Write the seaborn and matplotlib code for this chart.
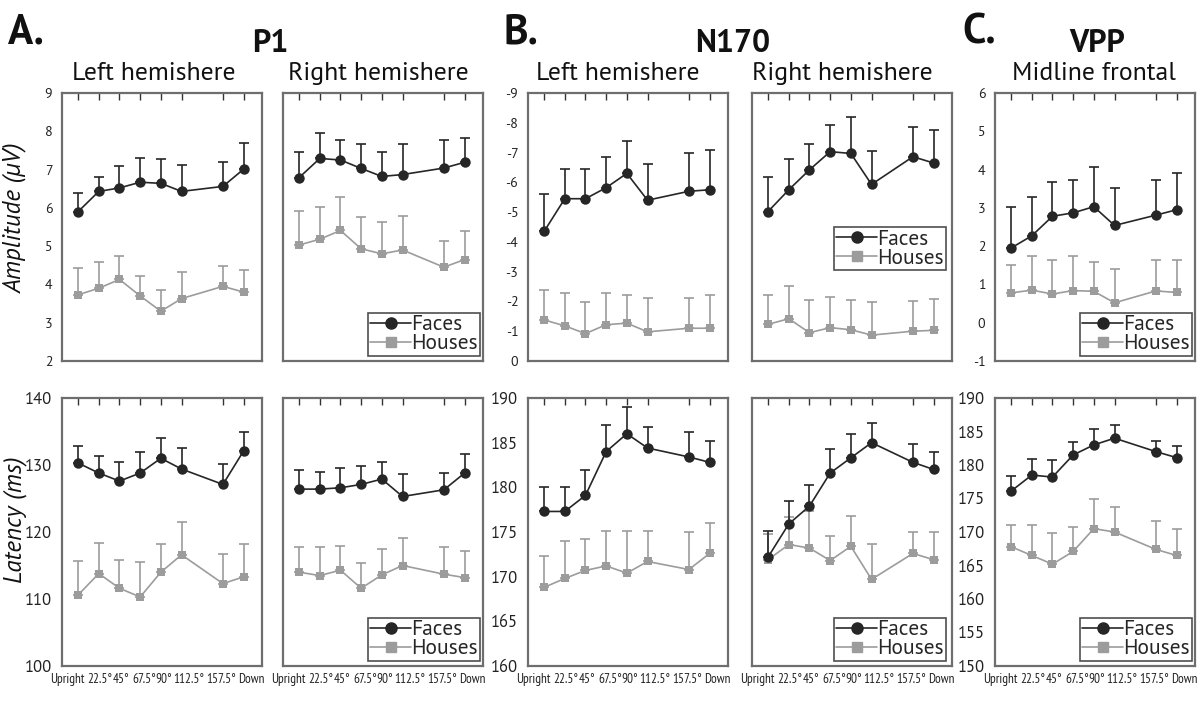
import numpy as np
import pandas as pd
import seaborn as sns
import matplotlib.pyplot as plt
import matplotlib.transforms as mtransforms
from matplotlib.lines import Line2D

sns.set_style("white")
MAIN = ['PT Sans', 'Lato', 'DejaVu Sans']
NARROW = ['PT Sans Narrow', 'Archivo Narrow', 'Barlow Semi Condensed', 'Lato', 'DejaVu Sans']
plt.rcParams['font.family'] = MAIN
plt.rcParams['axes.unicode_minus'] = False

# orientation angles (135 deg was not tested)
angles = [0, 22.5, 45, 67.5, 90, 112.5, 157.5, 180]
angle_labels = ['Upright', '22.5°', '45°', '67.5°', '90°', '112.5°', '157.5°', 'Down']

# ---- amplitude (uV): means and top of error bar ----
p1_left_amp_faces = [5.90, 6.43, 6.52, 6.67, 6.64, 6.43, 6.56, 7.01]
p1_left_amp_faces_err = [6.38, 6.80, 7.09, 7.29, 7.27, 7.12, 7.20, 7.70]
p1_left_amp_houses = [3.73, 3.90, 4.13, 3.70, 3.30, 3.63, 3.95, 3.80]
p1_left_amp_houses_err = [4.42, 4.58, 4.74, 4.22, 3.86, 4.32, 4.49, 4.37]

p1_right_amp_faces = [6.79, 7.29, 7.25, 7.03, 6.82, 6.87, 7.04, 7.19]
p1_right_amp_faces_err = [7.46, 7.95, 7.77, 7.68, 7.46, 7.68, 7.77, 7.82]
p1_right_amp_houses = [5.03, 5.18, 5.41, 4.93, 4.80, 4.90, 4.45, 4.65]
p1_right_amp_houses_err = [5.92, 6.01, 6.28, 5.77, 5.62, 5.80, 5.13, 5.40]

n170_left_amp_faces = [-4.35, -5.45, -5.45, -5.82, -6.30, -5.40, -5.70, -5.75]
n170_left_amp_faces_err = [-5.62, -6.45, -6.45, -6.85, -7.40, -6.62, -6.98, -7.07]
n170_left_amp_houses = [-1.38, -1.18, -0.92, -1.22, -1.27, -0.98, -1.10, -1.10]
n170_left_amp_houses_err = [-2.40, -2.28, -1.97, -2.28, -2.20, -2.10, -2.13, -2.23]

n170_right_amp_faces = [-5.02, -5.75, -6.42, -7.03, -6.97, -5.93, -6.86, -6.65]
n170_right_amp_faces_err = [-6.18, -6.78, -7.30, -7.93, -8.18, -7.05, -7.85, -7.75]
n170_right_amp_houses = [-1.23, -1.42, -0.95, -1.12, -1.05, -0.87, -1.00, -1.03]
n170_right_amp_houses_err = [-2.20, -2.52, -2.04, -2.15, -2.04, -1.97, -2.00, -2.08]

vpp_amp_faces = [1.95, 2.27, 2.78, 2.87, 3.03, 2.54, 2.81, 2.95]
vpp_amp_faces_err = [3.01, 3.29, 3.68, 3.73, 4.07, 3.51, 3.73, 3.91]
vpp_amp_houses = [0.78, 0.85, 0.75, 0.84, 0.82, 0.52, 0.83, 0.79]
vpp_amp_houses_err = [1.52, 1.73, 1.64, 1.73, 1.58, 1.41, 1.65, 1.65]

# ---- latency (ms) ----
p1_left_lat_faces = [130.3, 128.8, 127.6, 128.8, 131.0, 129.4, 127.1, 132.1]
p1_left_lat_faces_err = [132.9, 131.4, 130.5, 132.0, 134.0, 132.6, 130.1, 134.9]
p1_left_lat_houses = [110.6, 113.8, 111.6, 110.3, 114.0, 116.6, 112.3, 113.3]
p1_left_lat_houses_err = [115.6, 118.3, 115.8, 115.5, 118.2, 121.5, 116.7, 118.2]

p1_right_lat_faces = [126.4, 126.4, 126.6, 127.1, 127.9, 125.3, 126.3, 128.8]
p1_right_lat_faces_err = [129.3, 128.9, 129.5, 129.8, 130.5, 128.7, 128.8, 131.6]
p1_right_lat_houses = [114.0, 113.5, 114.3, 111.6, 113.6, 115.0, 113.7, 113.2]
p1_right_lat_houses_err = [117.8, 117.7, 117.9, 115.3, 117.5, 119.1, 117.7, 117.1]

n170_left_lat_faces = [177.3, 177.3, 179.1, 184.0, 186.0, 184.4, 183.4, 182.8]
n170_left_lat_faces_err = [180.0, 180.0, 181.9, 187.0, 189.0, 186.8, 186.2, 185.2]
n170_left_lat_houses = [168.8, 169.8, 170.7, 171.2, 170.4, 171.7, 170.8, 172.6]
n170_left_lat_houses_err = [172.3, 174.0, 174.2, 175.1, 175.1, 175.1, 175.0, 176.0]

n170_right_lat_faces = [172.2, 175.9, 177.9, 181.6, 183.3, 185.0, 182.8, 182.0]
n170_right_lat_faces_err = [175.1, 178.5, 180.3, 184.3, 186.0, 187.2, 184.9, 184.0]
n170_right_lat_houses = [171.9, 173.6, 173.2, 171.8, 173.4, 169.7, 172.6, 171.9]
n170_right_lat_houses_err = [174.8, 176.7, 177.4, 174.6, 176.8, 173.7, 175.0, 175.0]

vpp_lat_faces = [176.1, 178.5, 178.2, 181.5, 183.0, 184.0, 182.0, 181.1]
vpp_lat_faces_err = [178.3, 180.9, 180.7, 183.5, 185.4, 185.9, 183.6, 182.8]
vpp_lat_houses = [167.8, 166.5, 165.2, 167.1, 170.5, 170.0, 167.4, 166.5]
vpp_lat_houses_err = [171.0, 171.0, 169.8, 170.7, 175.0, 173.7, 171.6, 170.5]

FACE_C = '#262626'
HOUSE_C = '#9c9c9c'
SPINE_C = '#6e6e6e'

fig = plt.figure(figsize=(12, 7.15), dpi=100)
W, H = 1200, 715

col_x = [62, 283, 528, 752, 995]
col_w = 200
row_top = [93, 398]
row_h = 268

# small horizontal nudges (px) so the crowded angle labels sit as in the figure
label_nudge = [-11, 1, 2, 4, 3, 7, -2, 8]


def draw_panel(ax, faces, faces_err, houses, houses_err, ylim, yticks,
               show_labels, show_xlabels, legend_anchor, tick_fs):
    df = pd.DataFrame({
        'angle': angles * 2,
        'value': faces + houses,
        'cond': ['Faces'] * len(angles) + ['Houses'] * len(angles),
    })
    # error bars (one-sided, towards the top of the axis)
    for mean, top, c in [(houses, houses_err, HOUSE_C), (faces, faces_err, FACE_C)]:
        mean = np.array(mean)
        top = np.array(top)
        lo = np.clip(mean - top, 0, None)
        hi = np.clip(top - mean, 0, None)
        ax.errorbar(angles, mean, yerr=[lo, hi], fmt='none', ecolor=c,
                    elinewidth=1.2, capsize=3.5, capthick=1.2, zorder=1.5)
    sns.lineplot(data=df, x='angle', y='value', hue='cond', style='cond',
                 hue_order=['Houses', 'Faces'], style_order=['Houses', 'Faces'],
                 palette={'Faces': FACE_C, 'Houses': HOUSE_C},
                 markers={'Faces': 'o', 'Houses': 's'}, dashes=False,
                 linewidth=1.2, markeredgewidth=0, legend=False, ax=ax)
    for ln in ax.lines:
        if ln.get_marker() == 'o':
            ln.set_markersize(7.5)
        elif ln.get_marker() == 's':
            ln.set_markersize(6)

    ax.set_xlim(-17.5, 200)
    ax.set_ylim(*ylim)
    ax.set_xticks(angles)
    ax.set_yticks(yticks)
    ax.set_xlabel('')
    ax.set_ylabel('')
    ax.set_xticklabels([])
    if show_xlabels:
        base = mtransforms.blended_transform_factory(ax.transData, ax.transAxes)
        for a, lab, dx in zip(angles, angle_labels, label_nudge):
            off = mtransforms.ScaledTranslation(dx / 100, -7 / 100, fig.dpi_scale_trans)
            ax.text(a, 0, lab, transform=base + off, ha='center', va='top',
                    fontsize=9.5, family=NARROW, color='#222222')
    if show_labels:
        ax.set_yticklabels([str(t) for t in yticks], fontsize=tick_fs)
    else:
        ax.set_yticklabels([])
    ax.tick_params(axis='both', direction='out', length=5, width=1,
                   color='#333333', pad=2, labelcolor='#222222')
    top = ax.secondary_xaxis('top')
    top.set_xticks(angles)
    top.set_xticklabels([])
    top.tick_params(direction='in', length=5, width=1, color='#333333')
    top.spines['top'].set_visible(False)
    for s in ax.spines.values():
        s.set_color(SPINE_C)
        s.set_linewidth(1.6)

    if legend_anchor is not None:
        handles = [
            Line2D([], [], color=FACE_C, marker='o', markersize=8, lw=1.2),
            Line2D([], [], color=HOUSE_C, marker='s', markersize=6.5, lw=1.2),
        ]
        leg = ax.legend(handles, ['Faces', 'Houses'], loc='lower right',
                        bbox_to_anchor=legend_anchor, fontsize=15.5,
                        frameon=True, fancybox=False, borderpad=0.1,
                        labelspacing=0.0, handlelength=1.9,
                        handletextpad=0.0, borderaxespad=0.0)
        leg.get_frame().set_edgecolor('#222222')
        leg.get_frame().set_linewidth(1.2)


amp_panels = [
    (p1_left_amp_faces, p1_left_amp_faces_err, p1_left_amp_houses, p1_left_amp_houses_err,
     (2, 9), list(range(2, 10)), True, None),
    (p1_right_amp_faces, p1_right_amp_faces_err, p1_right_amp_houses, p1_right_amp_houses_err,
     (2, 9), list(range(2, 10)), False, (0.985, 0.02)),
    (n170_left_amp_faces, n170_left_amp_faces_err, n170_left_amp_houses, n170_left_amp_houses_err,
     (0, -9), list(range(-9, 1)), True, None),
    (n170_right_amp_faces, n170_right_amp_faces_err, n170_right_amp_houses, n170_right_amp_houses_err,
     (0, -9), list(range(-9, 1)), False, (0.97, 0.34)),
    (vpp_amp_faces, vpp_amp_faces_err, vpp_amp_houses, vpp_amp_houses_err,
     (-1, 6), list(range(-1, 7)), True, (0.985, 0.02)),
]
lat_panels = [
    (p1_left_lat_faces, p1_left_lat_faces_err, p1_left_lat_houses, p1_left_lat_houses_err,
     (100, 140), list(range(100, 141, 10)), True, None),
    (p1_right_lat_faces, p1_right_lat_faces_err, p1_right_lat_houses, p1_right_lat_houses_err,
     (100, 140), list(range(100, 141, 10)), False, (0.985, 0.02)),
    (n170_left_lat_faces, n170_left_lat_faces_err, n170_left_lat_houses, n170_left_lat_houses_err,
     (160, 190), list(range(160, 191, 5)), True, None),
    (n170_right_lat_faces, n170_right_lat_faces_err, n170_right_lat_houses, n170_right_lat_houses_err,
     (160, 190), list(range(160, 191, 5)), False, (0.97, 0.02)),
    (vpp_lat_faces, vpp_lat_faces_err, vpp_lat_houses, vpp_lat_houses_err,
     (150, 190), list(range(150, 191, 5)), True, (0.985, 0.02)),
]

for r, panels in enumerate([amp_panels, lat_panels]):
    for c, p in enumerate(panels):
        rect = [col_x[c] / W, 1 - (row_top[r] + row_h) / H, col_w / W, row_h / H]
        ax = fig.add_axes(rect)
        draw_panel(ax, p[0], p[1], p[2], p[3], p[4], p[5], p[6],
                   show_xlabels=(r == 1), legend_anchor=p[7],
                   tick_fs=10 if r == 0 else 12)

# row labels
fig.text(15 / W, 1 - 218 / H, 'Amplitude (μV)', rotation=90, ha='center', va='center',
         fontsize=18, style='italic', color='#111111')
fig.text(15 / W, 1 - 520 / H, 'Latency (ms)', rotation=90, ha='center', va='center',
         fontsize=18, style='italic', color='#111111')

# panel letters and component titles
for letter, x in [('A.', 8), ('B.', 504), ('C.', 962)]:
    fig.text(x / W, 1 - 43 / H, letter, ha='left', va='baseline', fontsize=30,
             fontweight='bold', color='#111111')
for name, x in [('P1', 270), ('N170', 733), ('VPP', 1097)]:
    fig.text(x / W, 1 - 52 / H, name, ha='center', va='baseline', fontsize=23,
             fontweight='bold', color='#111111')
for sub, x in [('Left hemishere', 154), ('Right hemishere', 378),
               ('Left hemishere', 618), ('Right hemishere', 842),
               ('Midline frontal', 1094)]:
    fig.text(x / W, 1 - 80 / H, sub, ha='center', va='baseline', fontsize=18.5,
             color='#111111')

fig.savefig('out.png', dpi=100, facecolor='white')
